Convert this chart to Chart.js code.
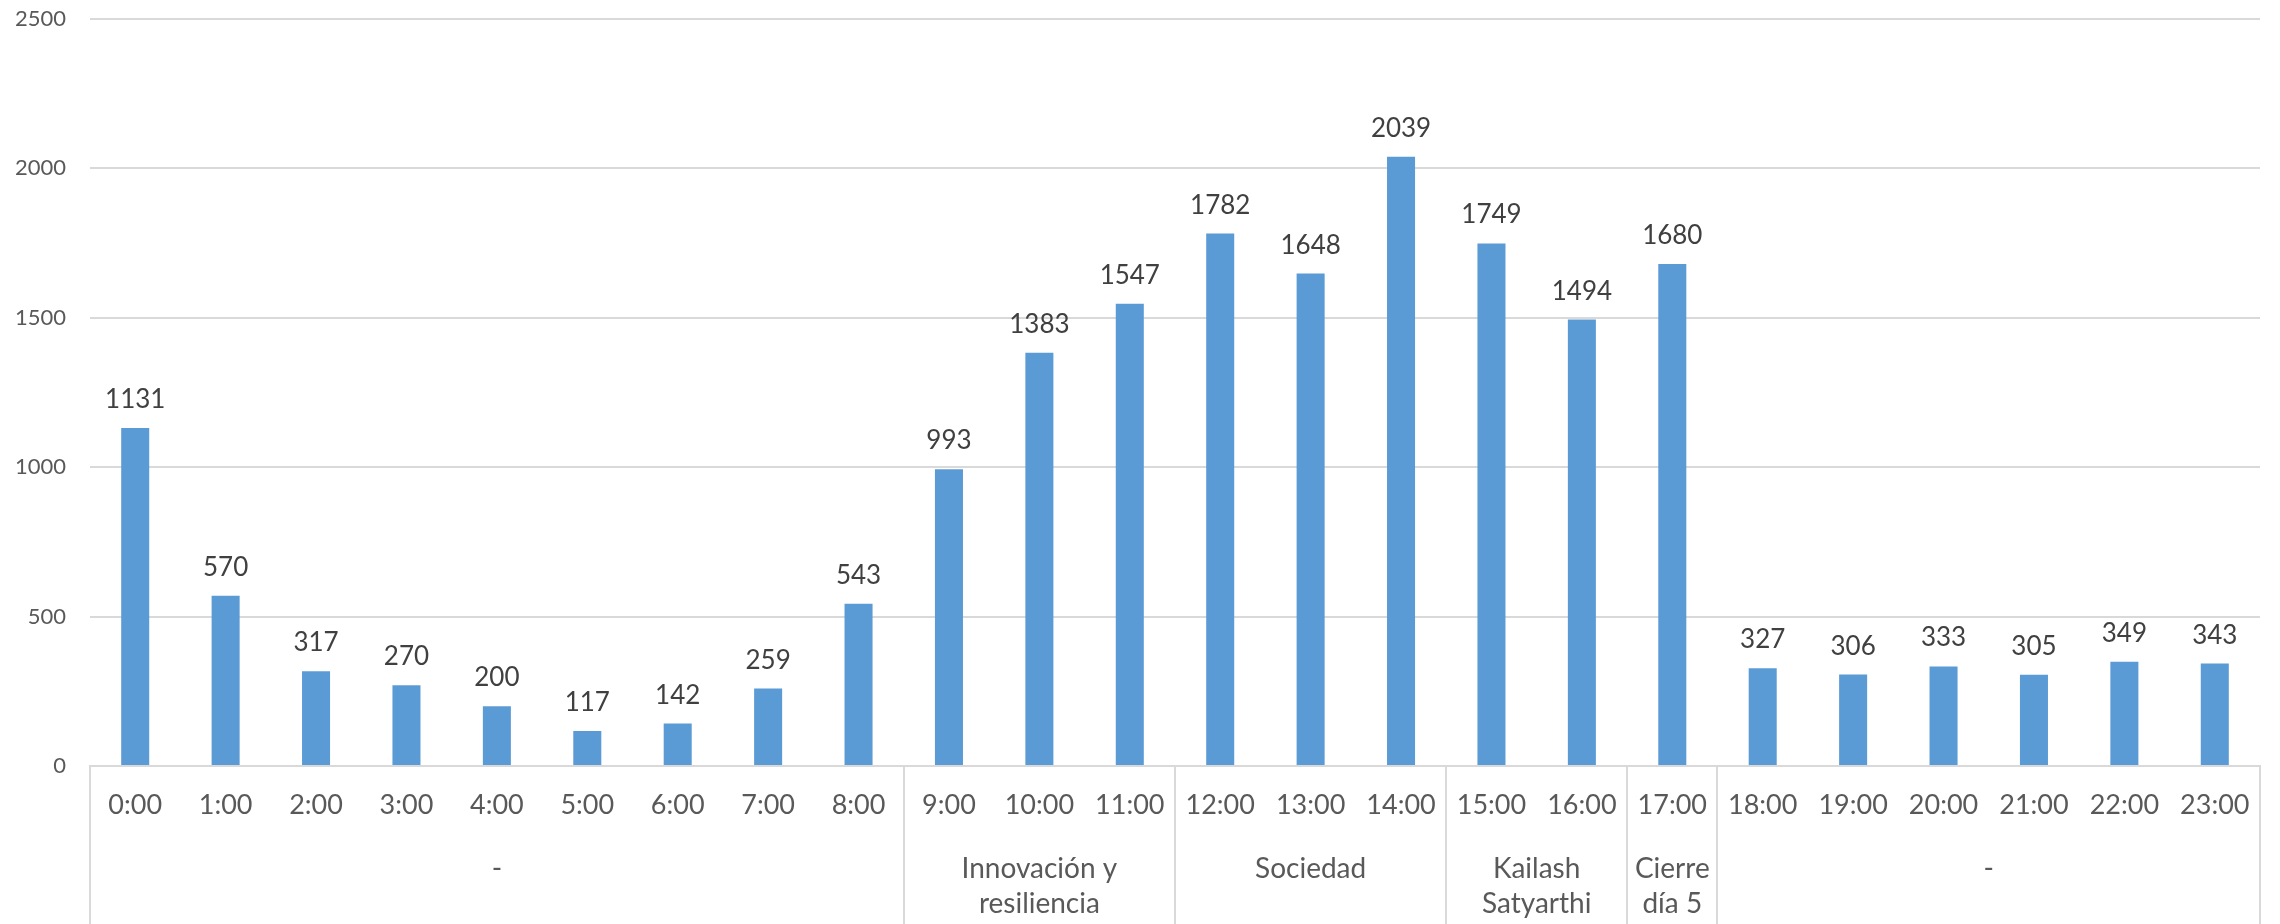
<!DOCTYPE html>
<html>
<head>
<meta charset="utf-8">
<script src="https://cdn.jsdelivr.net/npm/chart.js@4.4.1/dist/chart.umd.min.js"></script>
<style>
  body { margin: 0; background: #fff; }
  canvas { display: block; }
</style>
</head>
<body>
<canvas id="hourChart" width="2280" height="924"></canvas>
<script>
// Hourly counts
const hours = ['0:00', '1:00', '2:00', '3:00', '4:00', '5:00', '6:00', '7:00', '8:00',
    '9:00', '10:00', '11:00', '12:00', '13:00', '14:00', '15:00', '16:00', '17:00',
    '18:00', '19:00', '20:00', '21:00', '22:00', '23:00'];
const counts = [1131, 570, 317, 270, 200, 117, 142, 259, 543, 993, 1383, 1547,
    1782, 1648, 2039, 1749, 1494, 1680, 327, 306, 333, 305, 349, 343];

// Sessions grouping the hours (second row of the category axis)
const groupNames = [['-'], ['Innovación y', 'resiliencia'], ['Sociedad'],
    ['Kailash', 'Satyarthi'], ['Cierre', 'día 5'], ['-']];
const groupSizes = [9, 3, 3, 2, 1, 6];

const yTicks = [0, 500, 1000, 1500, 2000, 2500];

const FONT = 'Lato, "Open Sans", sans-serif';
const LINE_COLOR = '#d9d9d9';

// Value above each bar
const valueLabels = {
    id: 'valueLabels',
    afterDatasetsDraw(chart) {
        const ctx = chart.ctx;
        const meta = chart.getDatasetMeta(0);
        ctx.save();
        ctx.font = '26px ' + FONT;
        ctx.fillStyle = '#404040';
        ctx.textAlign = 'center';
        ctx.textBaseline = 'alphabetic';
        meta.data.forEach((bar, i) => {
            ctx.fillText(String(counts[i]), bar.x, bar.y - 20);
        });
        ctx.restore();
    }
};

// Second level of the category axis: separators and session names
const groupAxis = {
    id: 'groupAxis',
    afterDraw(chart) {
        const ctx = chart.ctx;
        const x = chart.scales.x;
        const area = chart.chartArea;
        const half = (x.getPixelForValue(1) - x.getPixelForValue(0)) / 2;
        ctx.save();
        ctx.strokeStyle = LINE_COLOR;
        ctx.lineWidth = 2;
        ctx.font = '28px ' + FONT;
        ctx.fillStyle = '#595959';
        ctx.textAlign = 'center';
        ctx.textBaseline = 'middle';

        let start = 0;
        const edges = [area.left];
        groupSizes.forEach((size, g) => {
            const end = start + size - 1;
            const left = x.getPixelForValue(start) - half;
            const right = x.getPixelForValue(end) + half;
            edges.push(right);
            const cx = (left + right) / 2;
            groupNames[g].forEach((line, k) => {
                ctx.fillText(line, cx, 869 + k * 35);
            });
            start = end + 1;
        });

        edges.forEach(ex => {
            const px = Math.round(ex);
            ctx.beginPath();
            ctx.moveTo(px, area.bottom);
            ctx.lineTo(px, chart.height);
            ctx.stroke();
        });
        ctx.restore();
    }
};

const ctx = document.getElementById('hourChart').getContext('2d');
const hourChart = new Chart(ctx, {
    type: 'bar',
    data: {
        labels: hours,
        datasets: [{
            data: counts,
            backgroundColor: '#5b9bd5',
            borderWidth: 0,
            barPercentage: 0.31,
            categoryPercentage: 1
        }]
    },
    options: {
        responsive: false,
        animation: false,
        devicePixelRatio: 1,
        layout: {
            padding: { top: 19, right: 20, left: 0, bottom: 0 }
        },
        plugins: {
            legend: { display: false },
            tooltip: { enabled: false }
        },
        scales: {
            x: {
                grid: { display: false, drawTicks: false },
                border: { display: true, color: LINE_COLOR, width: 2 },
                ticks: {
                    color: '#595959',
                    font: { family: FONT, size: 27 },
                    padding: 23,
                    maxRotation: 0,
                    autoSkip: false
                },
                afterFit(scale) { scale.height = 158; }
            },
            y: {
                min: 0,
                max: 2500,
                grid: { color: LINE_COLOR, lineWidth: 2, drawTicks: false },
                border: { display: false },
                afterBuildTicks(scale) {
                    scale.ticks = yTicks.map(v => ({ value: v }));
                },
                ticks: {
                    color: '#595959',
                    font: { family: FONT, size: 22 },
                    padding: 24,
                    callback: value => String(value)
                },
                afterFit(scale) {
                    scale.width = 90;
                    // tick padding should not push the plot area down
                    scale.paddingTop = 0;
                    scale.paddingBottom = 0;
                }
            }
        }
    },
    plugins: [valueLabels, groupAxis]
});
</script>
</body>
</html>
